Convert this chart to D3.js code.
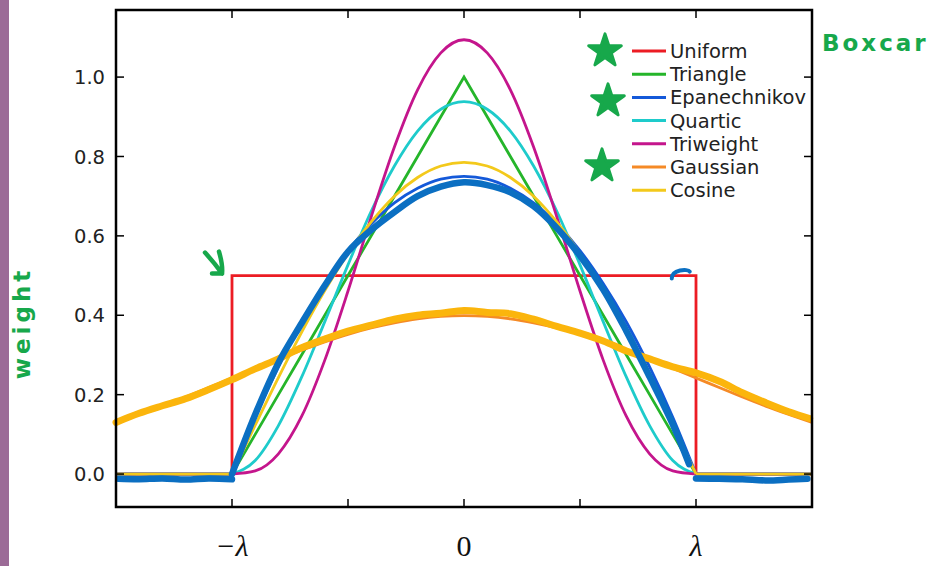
<!DOCTYPE html>
<html>
<head>
<meta charset="utf-8">
<script src="https://cdn.jsdelivr.net/npm/d3@7"></script>
<style>
  body { margin: 0; background: #fff; }
  svg { display: block; }
</style>
</head>
<body>
<div id="chart"></div>
<script>
// kernel values, u in units of lambda
var kernelU = [-1, -0.9, -0.8, -0.7, -0.6, -0.5, -0.4, -0.3, -0.2, -0.1, 0, 0.1, 0.2, 0.3, 0.4, 0.5, 0.6, 0.7, 0.8, 0.9, 1];
var triangleVals = [0, 0.1, 0.2, 0.3, 0.4, 0.5, 0.6, 0.7, 0.8, 0.9, 1, 0.9, 0.8, 0.7, 0.6, 0.5, 0.4, 0.3, 0.2, 0.1, 0];
var epanVals = [0, 0.143, 0.27, 0.383, 0.48, 0.563, 0.63, 0.683, 0.72, 0.743, 0.75, 0.743, 0.72, 0.683, 0.63, 0.563, 0.48, 0.383, 0.27, 0.143, 0];
var quarticVals = [0, 0.034, 0.122, 0.244, 0.384, 0.527, 0.662, 0.776, 0.864, 0.919, 0.938, 0.919, 0.864, 0.776, 0.662, 0.527, 0.384, 0.244, 0.122, 0.034, 0];
var triweightVals = [0, 0.008, 0.051, 0.145, 0.287, 0.461, 0.648, 0.824, 0.968, 1.061, 1.094, 1.061, 0.968, 0.824, 0.648, 0.461, 0.287, 0.145, 0.051, 0.008, 0];
var cosineVals = [0, 0.123, 0.243, 0.357, 0.462, 0.555, 0.635, 0.7, 0.747, 0.776, 0.785, 0.776, 0.747, 0.7, 0.635, 0.555, 0.462, 0.357, 0.243, 0.123, 0];
var uniformU = [-1.5, -1, -1, 1, 1, 1.5];
var uniformVals = [0, 0, 0.5, 0.5, 0, 0];

var gaussU = [-1.5, -1.4, -1.3, -1.2, -1.1, -1, -0.9, -0.8, -0.7, -0.6, -0.5, -0.4, -0.3, -0.2, -0.1, 0, 0.1, 0.2, 0.3, 0.4, 0.5, 0.6, 0.7, 0.8, 0.9, 1, 1.1, 1.2, 1.3, 1.4, 1.5];
var gaussVals = [0.13, 0.15, 0.171, 0.194, 0.218, 0.242, 0.266, 0.29, 0.312, 0.333, 0.352, 0.368, 0.381, 0.391, 0.397, 0.399, 0.397, 0.391, 0.381, 0.368, 0.352, 0.333, 0.312, 0.29, 0.266, 0.242, 0.218, 0.194, 0.171, 0.15, 0.13];

var seriesNames = ["Uniform", "Triangle", "Epanechnikov", "Quartic", "Triweight", "Gaussian", "Cosine"];
var seriesColors = ["#ec1c24", "#25b52a", "#1459d9", "#1ecbcb", "#c4158c", "#f58a26", "#f3c91b"];

// hand-drawn strokes over the plot
var handBlueLeftU = [-1.49, -1.4, -1.3, -1.2, -1.1, -1.0];
var handBlueLeftVals = [-0.012, -0.013, -0.011, -0.014, -0.011, -0.013];
var handBlueU = [-1.0, -0.9, -0.8, -0.7, -0.6, -0.5, -0.4, -0.3, -0.2, -0.1, 0, 0.1, 0.2, 0.3, 0.4, 0.5, 0.6, 0.7, 0.8, 0.9, 0.97];
var handBlueVals = [0.0, 0.15, 0.28, 0.38, 0.475, 0.56, 0.615, 0.66, 0.70, 0.724, 0.735, 0.728, 0.71, 0.675, 0.62, 0.55, 0.465, 0.36, 0.245, 0.125, 0.025];
var handBlueRightU = [1.0, 1.1, 1.2, 1.3, 1.4, 1.48];
var handBlueRightVals = [-0.011, -0.012, -0.013, -0.016, -0.014, -0.012];
var handYellowU = [-1.5, -1.4, -1.3, -1.2, -1.1, -1.0, -0.9, -0.8, -0.7, -0.6, -0.5, -0.4, -0.3, -0.2, -0.1, 0, 0.1, 0.2, 0.3, 0.4, 0.5, 0.6, 0.7, 0.8, 0.9, 1.0, 1.1, 1.2, 1.3, 1.4, 1.49];
var handYellowVals = [0.13, 0.153, 0.172, 0.19, 0.213, 0.238, 0.265, 0.29, 0.318, 0.34, 0.36, 0.375, 0.39, 0.4, 0.405, 0.412, 0.407, 0.404, 0.39, 0.372, 0.355, 0.335, 0.31, 0.29, 0.27, 0.255, 0.234, 0.205, 0.18, 0.157, 0.14];

var yTicks = [0, 0.2, 0.4, 0.6, 0.8, 1.0];
var xTicks = [-1, -0.5, 0, 0.5, 1];
var xTickLabels = {"-1": "−λ", "0": "0", "1": "λ"};

var width = 939, height = 566;
var svg = d3.select("#chart").append("svg").attr("width", width).attr("height", height);
svg.append("rect").attr("width", width).attr("height", height).attr("fill", "#fff");
// purple strip on the left edge
svg.append("rect").attr("x", 0).attr("y", 0).attr("width", 9).attr("height", height).attr("fill", "#9c6b97");

var plot = {left: 116, right: 812, top: 10, bottom: 507};
var x = d3.scaleLinear().domain([-1.5, 1.5]).range([plot.left, plot.right]);
var y = d3.scaleLinear().domain([-0.083, 1.169]).range([plot.bottom, plot.top]);

function pts(us, vs) { return us.map(function(u, i) { return [u, vs[i]]; }); }
var lineLin = d3.line().x(function(d) { return x(d[0]); }).y(function(d) { return y(d[1]); });
var lineSmooth = d3.line().x(function(d) { return x(d[0]); }).y(function(d) { return y(d[1]); }).curve(d3.curveMonotoneX);
var lineHand = d3.line().x(function(d) { return x(d[0]); }).y(function(d) { return y(d[1]); }).curve(d3.curveCatmullRom);

var curves = svg.append("g").attr("fill", "none").attr("stroke-width", 2.8);
var tailsL = pts([-1.5, -1], [0, 0]), tailsR = pts([1, 1.5], [0, 0]);

curves.append("path").attr("d", lineLin(pts(uniformU, uniformVals))).attr("stroke", seriesColors[0]);
[[triangleVals, lineLin], [epanVals, lineSmooth], [quarticVals, lineSmooth], [triweightVals, lineSmooth]].forEach(function(s, i) {
    var c = seriesColors[i + 1];
    curves.append("path").attr("d", s[1](pts(kernelU, s[0]))).attr("stroke", c);
    curves.append("path").attr("d", lineLin(tailsL)).attr("stroke", c);
    curves.append("path").attr("d", lineLin(tailsR)).attr("stroke", c);
});
curves.append("path").attr("d", lineSmooth(pts(gaussU, gaussVals))).attr("stroke", seriesColors[5]);
curves.append("path").attr("d", lineSmooth(pts(kernelU, cosineVals))).attr("stroke", seriesColors[6]);
curves.append("path").attr("d", lineLin(tailsL)).attr("stroke", seriesColors[6]);
curves.append("path").attr("d", lineLin(tailsR)).attr("stroke", seriesColors[6]);

// hand-drawn overlay
var hand = svg.append("g").attr("fill", "none").attr("stroke-linecap", "round").attr("stroke-linejoin", "round");
hand.append("path").attr("d", lineHand(pts(handYellowU, handYellowVals))).attr("stroke", "#fbb50c").attr("stroke-width", 7);
hand.append("path").attr("d", lineHand(pts(handBlueLeftU, handBlueLeftVals))).attr("stroke", "#0b6fc2").attr("stroke-width", 6.5);
hand.append("path").attr("d", lineHand(pts(handBlueU, handBlueVals))).attr("stroke", "#0b6fc2").attr("stroke-width", 6.5);
hand.append("path").attr("d", lineHand(pts(handBlueRightU, handBlueRightVals))).attr("stroke", "#0b6fc2").attr("stroke-width", 6.5);
// little blue hook over the uniform corner
var hx = x(0.93), hy = y(0.5);
hand.append("path").attr("d", "M" + (hx - 8) + "," + (hy + 3) + " C" + (hx - 8) + "," + (hy - 6) + " " + (hx + 8) + "," + (hy - 7) + " " + (hx + 10) + "," + (hy - 4))
    .attr("stroke", "#0b6fc2").attr("stroke-width", 4);
// green arrow at the uniform left corner
var ax = x(-1), ay = y(0.5);
hand.append("path").attr("d", "M" + (ax - 27) + "," + (ay - 23) + " Q" + (ax - 17) + "," + (ay - 12) + " " + (ax - 10) + "," + (ay - 2) + " M" + (ax - 13) + "," + (ay - 24) + " Q" + (ax - 9) + "," + (ay - 10) + " " + (ax - 10) + "," + (ay - 2) + " L" + (ax - 20) + "," + (ay - 2))
    .attr("stroke", "#17a84b").attr("stroke-width", 4.5);

// frame
var frame = svg.append("g");
frame.append("rect").attr("x", plot.left).attr("y", plot.top).attr("width", plot.right - plot.left).attr("height", plot.bottom - plot.top)
    .attr("fill", "none").attr("stroke", "#000").attr("stroke-width", 2.5);

var tickLen = 8;
frame.selectAll(".ytl").data(yTicks).enter().append("line")
    .attr("x1", plot.left).attr("x2", plot.left + tickLen)
    .attr("y1", function(d) { return y(d); }).attr("y2", function(d) { return y(d); })
    .attr("stroke", "#000").attr("stroke-width", 1.5);
frame.selectAll(".ytr").data(yTicks).enter().append("line")
    .attr("x1", plot.right).attr("x2", plot.right - tickLen)
    .attr("y1", function(d) { return y(d); }).attr("y2", function(d) { return y(d); })
    .attr("stroke", "#000").attr("stroke-width", 1.5);
frame.selectAll(".xtb").data(xTicks).enter().append("line")
    .attr("x1", function(d) { return x(d); }).attr("x2", function(d) { return x(d); })
    .attr("y1", plot.bottom).attr("y2", plot.bottom - tickLen)
    .attr("stroke", "#000").attr("stroke-width", 1.5);
frame.selectAll(".xtt").data(xTicks).enter().append("line")
    .attr("x1", function(d) { return x(d); }).attr("x2", function(d) { return x(d); })
    .attr("y1", plot.top).attr("y2", plot.top + tickLen)
    .attr("stroke", "#000").attr("stroke-width", 1.5);

frame.selectAll(".ylab").data(yTicks).enter().append("text")
    .attr("x", plot.left - 11).attr("y", function(d) { return y(d); }).attr("dy", "0.36em")
    .attr("text-anchor", "end").attr("font-family", "DejaVu Sans").attr("font-size", 19.5).attr("fill", "#222")
    .text(d3.format(".1f"));

frame.selectAll(".xlab").data(xTicks.filter(function(d) { return xTickLabels[d] !== undefined; })).enter().append("text")
    .attr("x", function(d) { return x(d); }).attr("y", 556)
    .attr("text-anchor", "middle").attr("font-family", "Liberation Serif").attr("font-size", 30)
    .attr("font-style", function(d) { return d === 0 ? "normal" : "italic"; })
    .attr("fill", "#111")
    .text(function(d) { return xTickLabels[d]; });

// legend
var legend = svg.append("g").selectAll("g").data(seriesNames).enter().append("g")
    .attr("transform", function(d, i) { return "translate(632," + (51 + i * 23.2) + ")"; });
legend.append("line").attr("x1", 0).attr("x2", 34).attr("y1", 0).attr("y2", 0)
    .attr("stroke", function(d, i) { return seriesColors[i]; }).attr("stroke-width", 3);
legend.append("text").attr("x", 38).attr("dy", "0.36em")
    .attr("font-family", "DejaVu Sans").attr("font-size", 19.5).attr("fill", "#222")
    .text(function(d) { return d; });

// green scribbles
var green = "#17a84b";
svg.selectAll(".star").data([[605, 51], [608, 101], [602, 166]]).enter().append("path")
    .attr("transform", function(d) { return "translate(" + d[0] + "," + d[1] + ")"; })
    .attr("d", d3.symbol().type(d3.symbolStar).size(330))
    .attr("fill", green).attr("stroke", green).attr("stroke-width", 3).attr("stroke-linejoin", "round");
svg.append("text").attr("x", 822).attr("y", 51)
    .attr("font-family", "DejaVu Sans").attr("font-weight", "bold").attr("font-size", 23)
    .attr("letter-spacing", 3).attr("fill", green).text("Boxcar");
svg.append("text").attr("transform", "translate(30,323) rotate(-90)")
    .attr("text-anchor", "middle")
    .attr("font-family", "DejaVu Sans").attr("font-weight", "bold").attr("font-size", 23)
    .attr("letter-spacing", 4).attr("fill", green).text("weight");
</script>
</body>
</html>
